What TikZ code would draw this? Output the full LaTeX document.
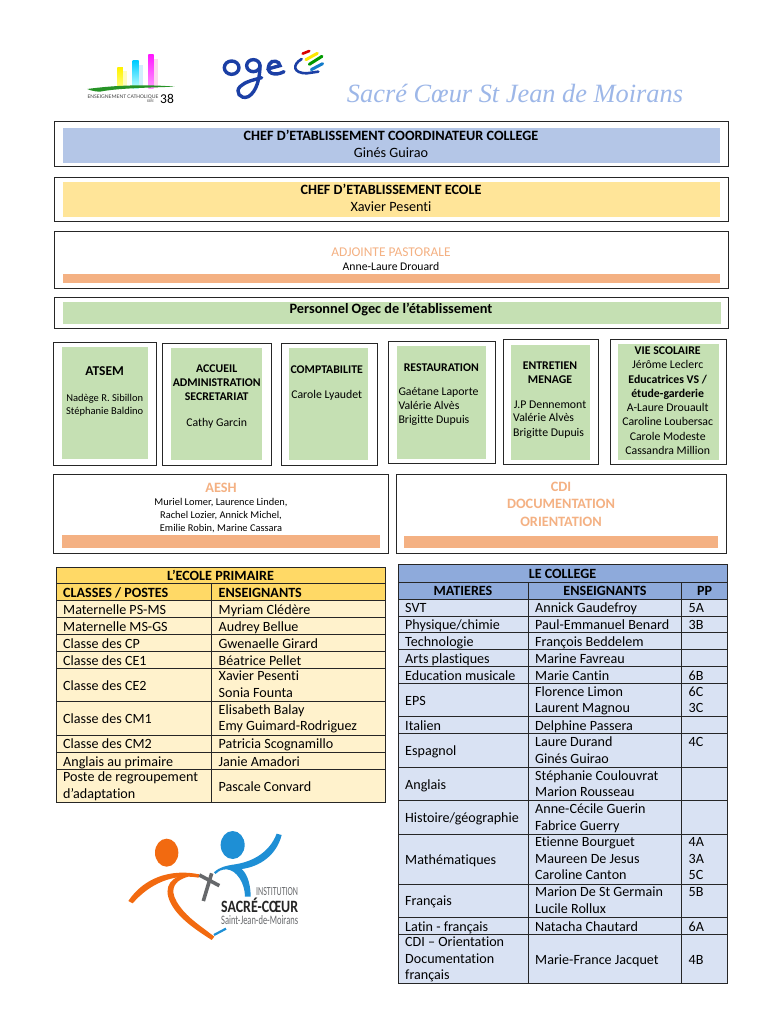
\documentclass[tikz,border=0pt]{standalone}
\usepackage{fontspec}
\usepackage{xcolor,graphicx,tikz}
\setmainfont[Ligatures=NoCommon]{Carlito}
\newfontfamily\titlefont{Liberation Serif}
\definecolor{framegray}{HTML}{262626}
\definecolor{coordblue}{HTML}{B4C6E7}
\definecolor{ecoleyel}{HTML}{FFE599}
\definecolor{pastoral}{HTML}{F4B183}
\definecolor{ogecgreen}{HTML}{C5E0B3}
\definecolor{primhead}{HTML}{FFD966}
\definecolor{primbody}{HTML}{FFF2CC}
\definecolor{colhead}{HTML}{8EAADB}
\definecolor{colbody}{HTML}{D9E2F3}
\definecolor{titleblue}{HTML}{9DB7E8}
\definecolor{logoorange}{HTML}{F26A10}
\definecolor{logoblue}{HTML}{1E8FD5}
\definecolor{logogray}{HTML}{66686B}
\definecolor{ogecblue}{HTML}{1B3FA5}
\begin{document}
\begin{tikzpicture}[x=1pt,y=-1pt,
  struts/.style={yshift=-2pt,execute at begin node=\strut,execute at end node=\strut},
  frame/.style={draw=framegray,line width=1pt},
  band/.style={struts,inner sep=0pt,align=center,font=\fontsize{14.2}{17.5}\selectfont},
  boxhead/.style={struts,inner sep=0pt,align=center,font=\fontsize{11.8}{14.3}\bfseries\selectfont},
  boxname/.style={struts,inner sep=0pt,align=left,font=\fontsize{11.8}{14.3}\selectfont},
  oranged/.style={struts,inner sep=0pt,align=center,text=pastoral,font=\fontsize{14.3}{17.5}\bfseries\selectfont},
  cell/.style={struts,inner sep=0pt,anchor=west,align=left,font=\fontsize{14.1}{16.5}\selectfont},
  cellhead/.style={cell,font=\fontsize{14.1}{16.5}\bfseries\selectfont},
  grid/.style={draw=framegray,line width=1pt}]
\path[use as bounding box,fill=white] (0,0) rectangle (768,1024);
% logos of the top line
\begin{scope}[shift={(80,45)},x=.3333pt,y=-.3333pt]
 \fill[yellow!25] (122,78) rectangle (142,130);
 \fill[cyan!18] (172,60) rectangle (188,130);
 \fill[magenta!15] (218,42) rectangle (234,130);
 \shade[top color=yellow!90!orange,bottom color=yellow!50] (112,68) rectangle (129,130);
 \shade[top color=cyan!80!blue,bottom color=cyan!25] (158,48) rectangle (176,130);
 \shade[top color=magenta!90,bottom color=magenta!40] (205,30) rectangle (221,130);
 \fill[green!50!black!85] (22,132) .. controls (110,120) and (200,118) .. (285,125) .. controls (200,128) and (110,130) .. (60,140) .. controls (45,140) and (30,136) .. (22,132) -- cycle;
 \node[inner sep=0pt,anchor=west,text=black!70] (ecname) at (22,157) {\resizebox{71pt}{3.6pt}{ENSEIGNEMENT CATHOLIQUE}};
 \node[inner sep=0pt,anchor=west,text=black!70] (ecisere) at (200,170) {\resizebox{7pt}{2.6pt}{ISERE}};
 \node[inner sep=0pt,anchor=west,font=\fontsize{13.5}{14}\selectfont] (ecnum) at (240,163) {38};
 \draw[ogecblue,line width=3.4pt] (455,68) ellipse (22 and 20);
 \draw[ogecblue,line width=3.4pt] (520,62) ellipse (20 and 18);
 \draw[ogecblue,line width=3.4pt,line cap=round] (540,60) .. controls (540,100) and (530,140) .. (505,155) .. controls (480,165) and (465,140) .. (480,125) .. controls (495,110) and (520,105) .. (545,98);
 \draw[ogecblue,line width=3.4pt,line cap=round] (563,72) -- (600,62) .. controls (600,48) and (575,42) .. (568,58) .. controls (555,85) and (585,95) .. (612,80);
 \draw[ogecblue,line width=2.6pt,line cap=round] (665,42) .. controls (635,60) and (640,85) .. (680,85) -- (715,80);
 \draw[red!85!black,line width=2.6pt,line cap=round] (668,26) -- (688,18);
 \draw[yellow!90!orange,line width=3pt,line cap=round] (678,44) -- (712,25);
 \draw[green!60!black,line width=3pt,line cap=round] (688,58) -- (726,34);
 \draw[cyan!60!blue,line width=3pt,line cap=round] (694,74) -- (728,56);
\end{scope}
\node[inner sep=0pt,text=titleblue] (title) at (515,93)
 {\resizebox{336pt}{!}{\titlefont\itshape Sacré Cœur St Jean de Moirans}};
% direction bands
\draw[frame] (54,122) rectangle (728,167);
\fill[coordblue] (63,128) rectangle (720,163);
\node[band] (coord) at (391,144.5)
 {\textbf{CHEF D’ETABLISSEMENT COORDINATEUR COLLEGE}\\Ginés Guirao};
\draw[frame] (54,178) rectangle (728,222);
\fill[ecoleyel] (63,182) rectangle (720,217);
\node[band] (ecole) at (391,198.5)
 {\textbf{CHEF D’ETABLISSEMENT ECOLE}\\Xavier Pesenti};
\draw[frame] (54,232) rectangle (728,288);
\fill[pastoral] (63,274) rectangle (720,283);
\node[band,text=pastoral,font=\fontsize{13.4}{15}\selectfont] (adjointe) at (391,251) {ADJOINTE PASTORALE};
\node[band,font=\fontsize{11.7}{14}\selectfont] (drouard) at (391,266) {Anne-Laure Drouard};
\draw[frame] (54,297) rectangle (728,328);
\fill[ogecgreen] (63,302) rectangle (721,324);
\node[band,font=\fontsize{14.3}{17}\bfseries\selectfont] (ogec) at (391,308.2) {Personnel Ogec de l’établissement};
% service boxes
\foreach \xa/\ya/\xb/\yb/\xc/\yc/\xd/\yd in {
  53.7/342/156/465/61.7/347.3/148.3/459.3,
  162.7/343.3/271/465.7/170.7/347.7/262/460.3,
  281/343.3/377/465.7/289/348.3/368.3/460.3,
  388/341/495.3/463.7/396.7/345.7/486.3/458.7,
  503/339.3/598/464.7/510.7/344.7/590.3/459.7,
  610/339.3/726/464/617.7/343.7/718.7/459.7}{
 \draw[frame] (\xa,\ya) rectangle (\xb,\yb);
 \fill[ogecgreen] (\xc,\yc) rectangle (\xd,\yd);
}
\node[boxhead,font=\fontsize{13.5}{16}\bfseries\selectfont] (atsem) at (104.7,370) {ATSEM};
\node[boxname,align=center,font=\fontsize{10.5}{13}\selectfont] (atsemnames) at (104.7,404.2) {Nadège R. Sibillon\\Stéphanie Baldino};
\node[boxhead] (accueil) at (216.7,382.7) {ACCUEIL\\ADMINISTRATION\\SECRETARIAT};
\node[boxname] (cathy) at (216.7,421.7) {Cathy Garcin};
\node[boxhead] (compta) at (326.7,368.3) {COMPTABILITE};
\node[boxname] (carole) at (326.7,393.3) {Carole Lyaudet};
\node[boxhead] (resto) at (441.3,366.3) {RESTAURATION};
\node[boxname,anchor=west] (restonames) at (398.3,405.7) {Gaétane Laporte\\Valérie Alvès\\Brigitte Dupuis};
\node[boxhead] (entretien) at (550,372.8) {ENTRETIEN\\MENAGE};
\node[boxname] (jpd) at (550,404) {J.P Dennemont};
\node[boxname,anchor=west] (entnames) at (513,425.1) {Valérie Alvès\\Brigitte Dupuis};
\node[boxname,align=center] (vie) at (667.7,400.8)
 {\textbf{VIE SCOLAIRE}\\Jérôme Leclerc\\\textbf{Educatrices VS /}\\\textbf{étude-garderie}\\A-Laure Drouault\\Caroline Loubersac\\Carole Modeste\\Cassandra Million};
\draw[frame] (53.7,474.3) rectangle (388,553.3);
\fill[pastoral] (61.7,535) rectangle (380.3,547.7);
\node[oranged] (aesh) at (221,486.7) {AESH};
\node[boxname,align=center,font=\fontsize{10.4}{13}\selectfont] (aeshnames) at (221,515) {Muriel Lomer, Laurence Linden,\\Rachel Lozier, Annick Michel,\\Emilie Robin, Marine Cassara};
\draw[frame] (396,474.3) rectangle (726,553.3);
\fill[pastoral] (404,536) rectangle (718.3,547.7);
\node[oranged] (cdi) at (561,504.5) {CDI\\DOCUMENTATION\\ORIENTATION};
% school table
\fill[primhead] (56,567) rectangle (385,600.7);
\draw[grid] (56,567) rectangle (385,583.3);
\draw[grid] (56,583.3) rectangle (211,600.7) (211,583.3) rectangle (385,600.7);
\node[cellhead,anchor=center] (primtitle) at (220.5,575.2) {L’ECOLE PRIMAIRE};
\node[cellhead] (primcla) at (63,592) {CLASSES / POSTES};
\node[cellhead] (primens) at (218.5,592) {ENSEIGNANTS};
\foreach \ya/\yb/\ta/\tb [count=\n] in {
  600.7/617.7/{Maternelle PS-MS}/{Myriam Clédère},
  617.7/634.7/{Maternelle MS-GS}/{Audrey Bellue},
  634.7/651.3/{Classe des CP}/{Gwenaelle Girard},
  651.3/668.3/{Classe des CE1}/{Béatrice Pellet},
  668.3/701.3/{Classe des CE2}/{Xavier Pesenti\\Sonia Founta},
  701.3/735/{Classe des CM1}/{Elisabeth Balay\\Emy Guimard-Rodriguez},
  735/752.3/{Classe des CM2}/{Patricia Scognamillo},
  752.3/769.3/{Anglais au primaire}/{Janie Amadori},
  769.3/802.3/{Poste de regroupement\\d’adaptation}/{Pascale Convard}}{
 \draw[grid,fill=primbody] (56,\ya) rectangle (211,\yb);
 \draw[grid,fill=primbody] (211,\ya) rectangle (385,\yb);
 \node[cell] (pa\n) at (63,{(\ya+\yb)/2}) {\ta};
 \node[cell] (pb\n) at (218.5,{(\ya+\yb)/2}) {\tb};
}
% college table
\fill[colhead] (398,564.7) rectangle (727,599);
\draw[grid] (398,564.7) rectangle (727,582);
\draw[grid] (398,582) rectangle (528.3,599) (528.3,582) rectangle (681.7,599) (681.7,582) rectangle (727,599);
\node[cellhead,anchor=center] (coltitle) at (562.5,573) {LE COLLEGE};
\node[cellhead,anchor=center] (colmat) at (463,590) {MATIERES};
\node[cellhead,anchor=center] (colens) at (605,590) {ENSEIGNANTS};
\node[cellhead,anchor=center] (colpp) at (704.5,590) {PP};
\foreach \ya/\yb/\ta/\tb/\tc [count=\n] in {
  599/616/{SVT}/{Annick Gaudefroy}/{5A},
  616/632.7/{Physique/chimie}/{Paul-Emmanuel Benard}/{3B},
  632.7/649.3/{Technologie}/{François Beddelem}/{},
  649.3/666.3/{Arts plastiques}/{Marine Favreau}/{},
  666.3/683.3/{Education musicale}/{Marie Cantin}/{6B},
  683.3/716.7/{EPS}/{Florence Limon\\Laurent Magnou}/{6C\\3C},
  716.7/733.7/{Italien}/{Delphine Passera}/{},
  733.7/767/{Espagnol}/{Laure Durand\\Ginés Guirao}/{4C\\\strut},
  767/800.7/{Anglais}/{Stéphanie Coulouvrat\\Marion Rousseau}/{},
  800.7/834/{Histoire/géographie}/{Anne-Cécile Guerin\\Fabrice Guerry}/{},
  834/884/{Mathématiques}/{Etienne Bourguet\\Maureen De Jesus\\Caroline Canton}/{4A\\3A\\5C},
  884/917.3/{Français}/{Marion De St Germain\\Lucile Rollux}/{5B\\\strut},
  917.3/934.3/{Latin - français}/{Natacha Chautard}/{6A},
  934.3/983.3/{CDI – Orientation\\Documentation\\français}/{Marie-France Jacquet}/{4B}}{
 \draw[grid,fill=colbody] (398,\ya) rectangle (528.3,\yb);
 \draw[grid,fill=colbody] (528.3,\ya) rectangle (681.7,\yb);
 \draw[grid,fill=colbody] (681.7,\ya) rectangle (727,\yb);
 \node[cell] (ca\n) at (405,{(\ya+\yb)/2}) {\ta};
 \node[cell] (cb\n) at (535,{(\ya+\yb)/2}) {\tb};
 \node[cell] (cc\n) at (688.5,{(\ya+\yb)/2}) {\tc};
}
% logo of the institution
\begin{scope}[shift={(120,825)},x=.3333pt,y=-.3333pt]
 \fill[logoorange] (140,83) ellipse (35 and 42);
 \fill[logoblue] (338,60) ellipse (36 and 42);
 \fill[logoorange] (25,228) .. controls (70,160) and (150,130) .. (238,148) -- (236,158) .. controls (160,145) and (90,175) .. (38,235) -- cycle;
 \fill[logoorange] (196,148) .. controls (140,160) and (125,200) .. (165,255) .. controls (195,295) and (245,325) .. (275,345) -- (283,335) .. controls (245,305) and (205,280) .. (180,245) .. controls (150,205) and (150,170) .. (205,155) -- cycle;
 \fill[logoblue] (282,142) .. controls (300,125) and (320,122) .. (345,118) .. controls (400,110) and (450,80) .. (470,26) -- (485,30) .. controls (470,90) and (420,125) .. (365,132) .. controls (385,150) and (392,185) .. (392,215) -- (375,215) .. controls (375,175) and (350,135) .. (320,133) .. controls (305,133) and (295,138) .. (287,147) -- cycle;
 \draw[logoblue,line width=2.2pt] (282,330) -- (318,311);
 \draw[logogray,line width=3.6pt] (275,145) -- (250,228);
 \draw[logogray,line width=3.6pt] (238,150) -- (298,182);
 \node[inner sep=0pt,anchor=east,text=logogray] (instit) at (535,200) {\resizebox{42pt}{8pt}{INSTITUTION}};
 \node[inner sep=0pt,anchor=east,text=black!85] (sacre) at (535,240) {\resizebox{77pt}{14.5pt}{\bfseries SACRÉ-CŒUR}};
 \node[inner sep=0pt,anchor=east,text=logogray] (saint) at (535,285) {\resizebox{77pt}{9pt}{Saint-Jean-de-Moirans}};
\end{scope}
\end{tikzpicture}
\end{document}
